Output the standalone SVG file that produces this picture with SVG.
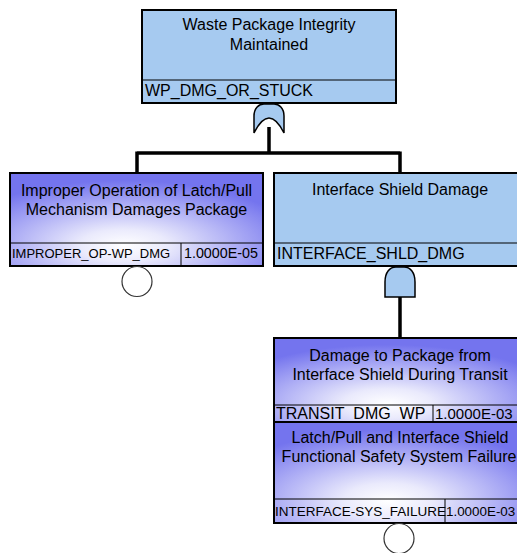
<svg xmlns="http://www.w3.org/2000/svg" width="517" height="553" viewBox="0 0 517 553">
<style>
.t{font-family:"Liberation Sans",Arial,sans-serif;font-size:16px;fill:#000}
.c{text-anchor:middle}
.blue{fill:#a6caf0;stroke:#000;stroke-width:2}
.grad{fill:url(#vg);stroke:#000;stroke-width:2}
.div{stroke:#000;stroke-width:1;fill:none}
.gate{fill:#a6caf0;stroke:#000;stroke-width:1.5}
.conn{stroke:#000;stroke-width:3.5;fill:none;stroke-linecap:butt}
.basic{fill:#fff;stroke:#333;stroke-width:1.2}
</style>
<defs>
<radialGradient id="vg" cx="0.45" cy="0.78" r="0.7" fx="0.45" fy="0.78">
<stop offset="0" stop-color="#ffffff"/>
<stop offset="0.25" stop-color="#eaeafc"/>
<stop offset="1" stop-color="#7474ee"/>
</radialGradient>
</defs>
<rect width="517" height="553" fill="#fff"/>
<g id="connectors">
<path class="conn" d="M269,127 V153 M137,153 H400 M137,151.5 V173 M400,151.5 V173"/>
<path class="conn" d="M400,297 V338"/>
</g>
<g id="WP_DMG_OR_STUCK">
<rect class="blue" x="142" y="10" width="254" height="93"/>
<line class="div" x1="142" y1="80" x2="396" y2="80"/>
<text class="t c" x="269" y="30">Waste Package Integrity</text>
<text class="t c" x="269" y="50">Maintained</text>
<text class="t" x="145" y="96">WP_DMG_OR_STUCK</text>
<path class="gate" d="M254,133 V116 C254,108 259,104 264,104 H274 C279,104 284,108 284,116 V133 C279,123 274,118 269,118 C264,118 259,123 254,133 Z"/>
</g>
<g id="IMPROPER_OP-WP_DMG">
<rect class="grad" x="10" y="173" width="253" height="93"/>
<line class="div" x1="10" y1="243" x2="263" y2="243"/>
<line class="div" x1="181" y1="243" x2="181" y2="266"/>
<text class="t c" x="136.5" y="196">Improper Operation of Latch/Pull</text>
<text class="t c" x="136.5" y="215">Mechanism Damages Package</text>
<text class="t" x="12" y="258" style="font-size:13px">IMPROPER_OP-WP_DMG</text>
<text class="t" x="184" y="258" style="font-size:14.3px">1.0000E-05</text>
<circle class="basic" cx="137" cy="281.5" r="15"/>
</g>
<g id="INTERFACE_SHLD_DMG">
<rect class="blue" x="274" y="173" width="253" height="93"/>
<line class="div" x1="274" y1="243" x2="527" y2="243"/>
<text class="t c" x="400" y="195">Interface Shield Damage</text>
<text class="t" x="277" y="259">INTERFACE_SHLD_DMG</text>
<path class="gate" d="M385,297 V282 C385,272 390,267 396,267 H404 C410,267 415,272 415,282 V297 Z"/>
</g>
<g id="TRANSIT_DMG_WP">
<rect class="grad" x="274" y="338" width="253" height="84"/>
<line class="div" x1="274" y1="405" x2="527" y2="405"/>
<line class="div" x1="433" y1="405" x2="433" y2="422"/>
<text class="t c" x="400" y="361">Damage to Package from</text>
<text class="t c" x="400" y="380">Interface Shield During Transit</text>
<text class="t" x="276" y="419">TRANSIT_DMG_WP</text>
<text class="t" x="435" y="419" style="font-size:15px">1.0000E-03</text>
</g>
<g id="INTERFACE-SYS_FAILURE">
<rect class="grad" x="274" y="422" width="253" height="101"/>
<line class="div" x1="274" y1="499" x2="527" y2="499"/>
<line class="div" x1="445" y1="499" x2="445" y2="523"/>
<text class="t c" x="400" y="443">Latch/Pull and Interface Shield</text>
<text class="t c" x="399" y="462">Functional Safety System Failure</text>
<text class="t" x="275" y="516" style="font-size:13.5px">INTERFACE-SYS_FAILURE</text>
<text class="t" x="446" y="516" style="font-size:13.4px">1.0000E-03</text>
<circle class="basic" cx="399" cy="538.5" r="15"/>
</g>
</svg>
